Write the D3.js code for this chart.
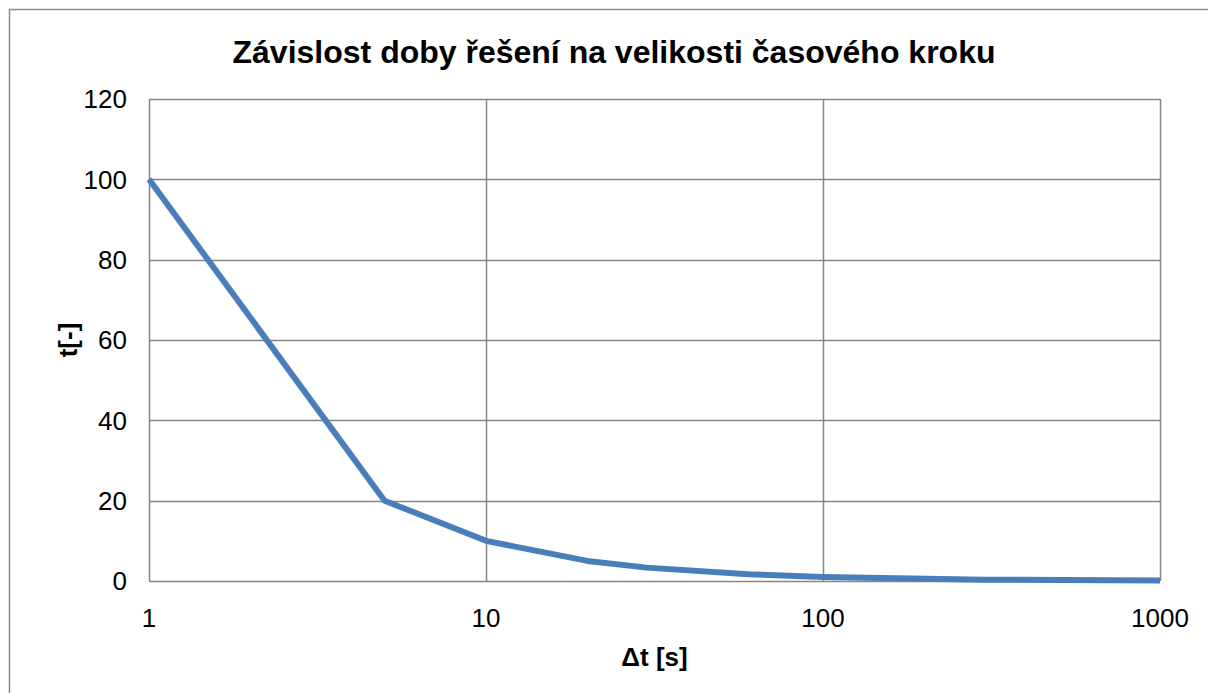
<!DOCTYPE html>
<html>
<head>
<meta charset="utf-8">
<script src="https://cdn.jsdelivr.net/npm/d3@7"></script>
<style>
  body { margin: 0; background: #fff; }
  text { font-family: "Liberation Sans", Arial, sans-serif; fill: #000; }
</style>
</head>
<body>
<svg id="chart"></svg>
<script>
var steps = [1, 5, 10, 20, 30, 60, 100, 300, 1000];
var times = [100, 20, 10, 5, 3.33, 1.67, 1, 0.33, 0.1];
var yTicks = [0, 20, 40, 60, 80, 100, 120];
var xTicks = [1, 10, 100, 1000];

var width = 1208, height = 693;
var margin = { top: 99, right: 48, bottom: 112, left: 149 };
var innerW = width - margin.left - margin.right;
var innerH = height - margin.top - margin.bottom;

var svg = d3.select("#chart").attr("width", width).attr("height", height);

// outer frame
svg.append("rect")
  .attr("x", 9.5).attr("y", 9.5)
  .attr("width", width).attr("height", height)
  .attr("fill", "none").attr("stroke", "#8c8c8c").attr("stroke-width", 1.5);

var x = d3.scaleLog().domain([1, 1000]).range([0, innerW]);
var y = d3.scaleLinear().domain([0, 120]).range([innerH, 0]);

var g = svg.append("g").attr("transform", "translate(" + margin.left + "," + margin.top + ")");

// grid
g.append("g").selectAll("line").data(yTicks).enter().append("line")
  .attr("x1", 0).attr("x2", innerW)
  .attr("y1", function (d) { return Math.round(y(d)) + 0.5; })
  .attr("y2", function (d) { return Math.round(y(d)) + 0.5; })
  .attr("stroke", "#868686").attr("stroke-width", 1.5);

g.append("g").selectAll("line").data(xTicks).enter().append("line")
  .attr("x1", function (d) { return Math.round(x(d)) + 0.5; })
  .attr("x2", function (d) { return Math.round(x(d)) + 0.5; })
  .attr("y1", 0).attr("y2", innerH)
  .attr("stroke", "#868686").attr("stroke-width", 1.5);

// y tick labels
g.append("g").selectAll("text").data(yTicks).enter().append("text")
  .attr("x", -22).attr("y", function (d) { return y(d); })
  .attr("dy", "0.36em").attr("text-anchor", "end")
  .style("font-size", "26px")
  .text(function (d) { return d; });

// x tick labels
g.append("g").selectAll("text").data(xTicks).enter().append("text")
  .attr("x", function (d) { return x(d); }).attr("y", innerH + 46)
  .attr("text-anchor", "middle")
  .style("font-size", "26px")
  .text(function (d) { return d; });

// line
var line = d3.line()
  .x(function (d, i) { return x(steps[i]); })
  .y(function (d) { return y(d); });

g.append("path")
  .datum(times)
  .attr("d", line)
  .attr("fill", "none")
  .attr("stroke", "#4a7ebb")
  .attr("stroke-width", 6)
  .attr("stroke-linejoin", "round");

// titles
svg.append("text")
  .attr("x", 614).attr("y", 63)
  .attr("text-anchor", "middle")
  .style("font-size", "32px").style("font-weight", "bold")
  .text("Závislost doby řešení na velikosti časového kroku");

svg.append("text")
  .attr("x", margin.left + innerW / 2).attr("y", 666)
  .attr("text-anchor", "middle")
  .style("font-size", "26px").style("font-weight", "bold")
  .text("Δt [s]");

svg.append("text")
  .attr("transform", "translate(77," + (margin.top + innerH / 2) + ") rotate(-90)")
  .attr("text-anchor", "middle")
  .style("font-size", "26px").style("font-weight", "bold")
  .text("t[-]");
</script>
</body>
</html>
